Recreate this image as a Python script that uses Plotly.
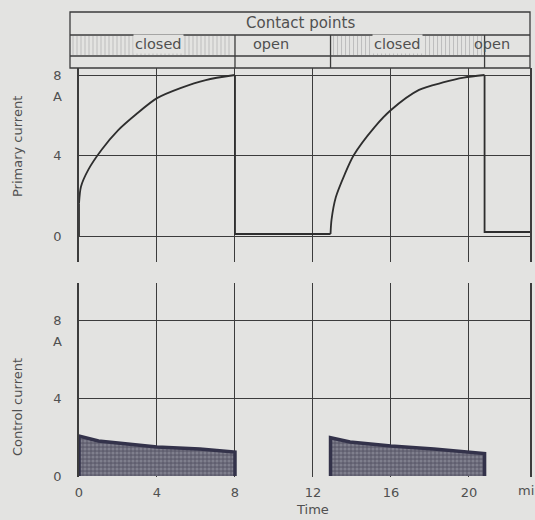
import plotly.graph_objects as go

# ---------------- data ----------------
# Primary current (A) vs time (ms): two rising phases while the points are closed
rise1_t = [0, 0.1, 0.48, 1.17, 2.0, 2.93, 4.0, 5.2, 6.5, 8.0]
rise1_i = [1.6, 2.45, 3.3, 4.3, 5.25, 6.05, 6.85, 7.35, 7.75, 8.0]
rise2_t = [12.9, 12.95, 13.17, 13.6, 14.08, 15.15, 16.0, 17.44, 18.67, 19.73, 20.8]
rise2_i = [0.1, 0.8, 1.92, 3.0, 4.0, 5.4, 6.26, 7.26, 7.63, 7.87, 8.0]
# switching steps and open-phase current
step_t = [0, 0, None, 8.0, 8.0, 12.9, None, 20.8, 20.8, 23.13]
step_i = [0, 1.6, None, 8.0, 0.1, 0.1, None, 8.0, 0.2, 0.2]

# Control current blocks (A)
ctrl1_t = [0, 0, 1.0, 2.75, 4.0, 6.2, 8.0, 8.0]
ctrl1_i = [0, 2.05, 1.8, 1.64, 1.49, 1.38, 1.23, 0]
ctrl2_t = [12.9, 12.9, 13.9, 16.0, 18.2, 20.8, 20.8]
ctrl2_i = [0, 1.96, 1.74, 1.54, 1.38, 1.15, 0]

# Contact point phases
phase_labels = ["closed", "open", "closed", "open"]
phase_bounds = [0, 8.0, 12.9, 20.8, 23.13]

x_ticks = [0, 4, 8, 12, 16, 20]
y_ticks = [0, 4, 8]

# ---------------- style ----------------
BG = "#e3e3e1"
LINE = "#3c3c3c"
TXT = "#505050"
FONT = "DejaVu Sans, Liberation Sans, sans-serif"
W, H = 535, 520
L, R = 79, 5
PW = W - L - R
XMAX = phase_bounds[-1]


def px_y(py):
    return 1 - py / H


def px_x(px):
    return (px - L) / PW


def t_x(t):
    return t / XMAX


fig = go.Figure()

for tt, ii in ((rise1_t, rise1_i), (rise2_t, rise2_i)):
    fig.add_trace(go.Scatter(x=tt, y=ii, mode="lines",
                             line=dict(color="#2e2e2e", width=1.8, shape="spline", smoothing=0.8),
                             xaxis="x", yaxis="y", hoverinfo="skip", showlegend=False))
fig.add_trace(go.Scatter(x=step_t, y=step_i, mode="lines", connectgaps=False,
                         line=dict(color="#2e2e2e", width=1.8),
                         xaxis="x", yaxis="y", hoverinfo="skip", showlegend=False))

for tt, ii in ((ctrl1_t, ctrl1_i), (ctrl2_t, ctrl2_i)):
    fig.add_trace(go.Scatter(x=tt, y=ii, mode="lines", fill="toself",
                             line=dict(color="#33324a", width=3.5),
                             fillcolor="#5f5e6e",
                             fillpattern=dict(shape=".", bgcolor="#5f5e6e", fgcolor="#a0a0ac",
                                              size=4, solidity=0.5),
                             xaxis="x2", yaxis="y2", hoverinfo="skip", showlegend=False))

shapes = []
# table frame
top_px, row1_px, row2_px, bot_px = 12, 35, 56, 68
x_left, x_right = px_x(70), 1.0
shapes.append(dict(type="rect", xref="paper", yref="paper", x0=x_left, x1=x_right,
                   y0=px_y(bot_px), y1=px_y(top_px), line=dict(color=LINE, width=1.3)))
for py in (row1_px, row2_px):
    shapes.append(dict(type="line", xref="paper", yref="paper", x0=x_left, x1=x_right,
                       y0=px_y(py), y1=px_y(py), line=dict(color=LINE, width=1.3)))
for b in phase_bounds[1:-1]:
    shapes.append(dict(type="line", xref="paper", yref="paper", x0=t_x(b), x1=t_x(b),
                       y0=px_y(bot_px), y1=px_y(row1_px), line=dict(color=LINE, width=1.3)))
# hatching in "closed" cells
for k, lab in enumerate(phase_labels):
    if lab != "closed":
        continue
    a = x_left if k == 0 else t_x(phase_bounds[k])
    b = t_x(phase_bounds[k + 1])
    pa = L + a * PW + 3
    pb = L + b * PW - 2
    p = pa
    while p < pb:
        shapes.append(dict(type="line", xref="paper", yref="paper", x0=px_x(p), x1=px_x(p),
                           y0=px_y(row2_px - 1), y1=px_y(row1_px + 1),
                           line=dict(color="#bdbdbd", width=1)))
        p += 4


def ann(text, px, py, size=13, angle=0, xanchor="center", bg=None):
    return dict(text=text, x=px_x(px), y=px_y(py), xref="paper", yref="paper",
                xanchor=xanchor, yanchor="middle", textangle=angle, showarrow=False,
                bgcolor=bg, borderpad=1, font=dict(size=size, color=TXT, family=FONT))


annotations = [
    ann("Contact points", 300, 23, size=15),
    ann("Primary current", 17, 146, size=13, angle=-90),
    ann("Control current", 17, 407, size=13, angle=-90),
    ann("A", 57, 96),
    ann("A", 57, 341),
    ann("Time", 312, 509),
    ann("min", 516, 490, xanchor="left"),
]
cell_centers = [158, 271, 397, 492]
for lab, cx in zip(phase_labels, cell_centers):
    annotations.append(ann(lab, cx, 44, size=14.5, bg=BG if lab == "closed" else None))

# axis ranges: top 0->236px, 8->75px ; bottom 0->476px, 8->320px
top_scale = (236 - 75) / 8.0
top_rng = [-(262 - 236) / top_scale, 8 + (75 - 68) / top_scale]
bot_scale = (476 - 320) / 8.0
bot_rng = [-(477 - 476) / bot_scale, 8 + (320 - 283) / bot_scale]

common_x = dict(range=[0, XMAX], tickvals=x_ticks, showgrid=True, gridcolor=LINE, gridwidth=1.3,
                zeroline=False, showline=False, automargin=False, fixedrange=True)
common_y = dict(tickvals=y_ticks, showgrid=True, gridcolor=LINE, gridwidth=1.3, zeroline=False,
                showline=True, mirror=True, linecolor=LINE, linewidth=1.5, automargin=False,
                ticks="", ticklabelstandoff=13, tickfont=dict(size=13, color=TXT, family=FONT))

fig.update_layout(
    width=W, height=H,
    margin=dict(l=L, r=R, t=0, b=0),
    paper_bgcolor=BG, plot_bgcolor=BG,
    xaxis=dict(common_x, anchor="y", showticklabels=False),
    xaxis2=dict(common_x, anchor="y2", matches="x", showticklabels=True, ticks="",
                ticklabelstandoff=6, tickfont=dict(size=13, color=TXT, family=FONT)),
    yaxis=dict(common_y, domain=[px_y(262), px_y(68)], range=top_rng, anchor="x"),
    yaxis2=dict(common_y, domain=[px_y(477), px_y(283)], range=bot_rng, anchor="x2"),
    shapes=shapes,
    annotations=annotations,
    showlegend=False,
)

fig.write_html("out.html", config={"displayModeBar": False},
               post_script="document.body.style.margin='0';document.body.style.overflow='hidden';")
